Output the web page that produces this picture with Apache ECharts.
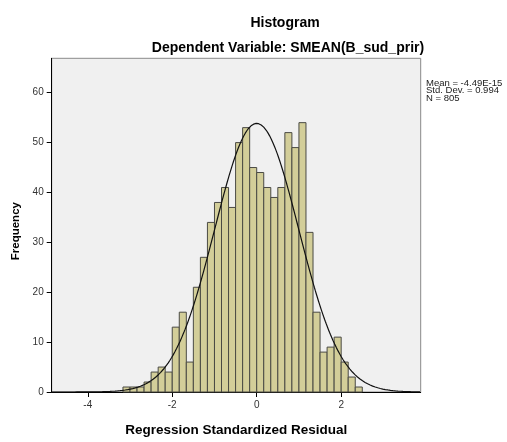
<!DOCTYPE html>
<html>
<head>
<meta charset="utf-8">
<title>Histogram</title>
<script src="https://cdn.jsdelivr.net/npm/echarts@6/dist/echarts.min.js"></script>
<style>
  html, body { margin: 0; padding: 0; background: #fff; }
  #chart { width: 507px; height: 442px; }
</style>
</head>
<body>
<div id="chart"></div>
<script>
// histogram counts, bins of width 1/6 starting at -19/6
var firstBin = -19 / 6;
var binWidth = 1 / 6;
var counts = [1, 1, 1, 2, 4, 5, 4, 13, 16, 6, 21, 27, 34, 38,
              41, 37, 50, 53, 45, 44, 41, 39, 41, 52, 49, 54, 32,
              16, 8, 9, 11, 6, 3, 1];
var xTicks = [-4, -2, 0, 2];
var yTicks = [0, 10, 20, 30, 40, 50, 60];

// stats printed in the chart (used for the normal curve)
var mean = -4.49e-15;
var stdDev = 0.994;
var nTotal = 805;

var xMin = -4.854, xMax = 3.883;
var yMax = 66.9;

var barData = counts.map(function (c, i) {
  return [firstBin + i * binWidth, c];
});

// fitted normal curve scaled to counts
var curveData = [];
for (var x = xMin; x <= xMax + 1e-9; x += 0.02) {
  var z = (x - mean) / stdDev;
  var y = nTotal * binWidth * Math.exp(-0.5 * z * z) / (stdDev * Math.sqrt(2 * Math.PI));
  curveData.push([x, y]);
}

var chart = echarts.init(document.getElementById('chart'));
var option = {
  animation: false,
  textStyle: { fontFamily: 'Liberation Sans, Arial, sans-serif' },
  title: [
    {
      text: 'Histogram',
      left: 280, top: 11, textAlign: 'center',
      textStyle: { fontSize: 14, fontWeight: 'bold', color: '#000' }
    },
    {
      text: 'Dependent Variable: SMEAN(B_sud_prir)',
      left: 283, top: 36, textAlign: 'center',
      textStyle: { fontSize: 14, fontWeight: 'bold', color: '#000' }
    }
  ],
  grid: {
    left: 51.7, right: 86.3, top: 58.3, bottom: 44.7,
    show: true,
    backgroundColor: '#f0f0f0',
    borderColor: '#8a8a8a',
    borderWidth: 1
  },
  xAxis: {
    type: 'value',
    min: xMin, max: xMax,
    name: 'Regression Standardized Residual',
    nameLocation: 'middle',
    nameGap: 31,
    nameTextStyle: { fontSize: 13.5, fontWeight: 'bold', color: '#000' },
    axisLine: { onZero: false, lineStyle: { color: '#000', width: 1 } },
    axisTick: { length: 5, customValues: xTicks, lineStyle: { color: '#000' } },
    axisLabel: { customValues: xTicks, fontSize: 10, color: '#333', margin: 8 },
    splitLine: { show: false }
  },
  yAxis: {
    type: 'value',
    min: 0, max: yMax,
    name: 'Frequency',
    nameLocation: 'middle',
    nameRotate: 90,
    nameGap: 28,
    nameTextStyle: { fontSize: 11.5, fontWeight: 'bold', color: '#000', padding: [0, 12, 0, 0] },
    axisLine: { show: true, onZero: false, lineStyle: { color: '#000', width: 1 } },
    axisTick: { show: true, length: 5, customValues: yTicks, lineStyle: { color: '#000' } },
    axisLabel: { customValues: yTicks, fontSize: 10, color: '#333', margin: 8 },
    splitLine: { show: false }
  },
  graphic: [
    {
      type: 'text',
      left: 426, top: 78,
      style: {
        text: 'Mean = -4.49E-15\nStd. Dev. = 0.994\nN = 805',
        font: '9.5px Liberation Sans, Arial, sans-serif',
        lineHeight: 7.8,
        fill: '#222'
      }
    }
  ],
  series: [
    {
      type: 'custom',
      data: barData,
      renderItem: function (params, api) {
        var p1 = api.coord([api.value(0), api.value(1)]);
        var p2 = api.coord([api.value(0) + binWidth, 0]);
        return {
          type: 'rect',
          shape: { x: p1[0], y: p1[1], width: p2[0] - p1[0], height: p2[1] - p1[1] },
          style: { fill: '#d3ce99', stroke: '#4a4a44', lineWidth: 1 }
        };
      },
      z: 2
    },
    {
      type: 'line',
      data: curveData,
      showSymbol: false,
      smooth: false,
      clip: true,
      lineStyle: { color: '#111', width: 1.2 },
      z: 3
    }
  ]
};
chart.setOption(option);
</script>
</body>
</html>
